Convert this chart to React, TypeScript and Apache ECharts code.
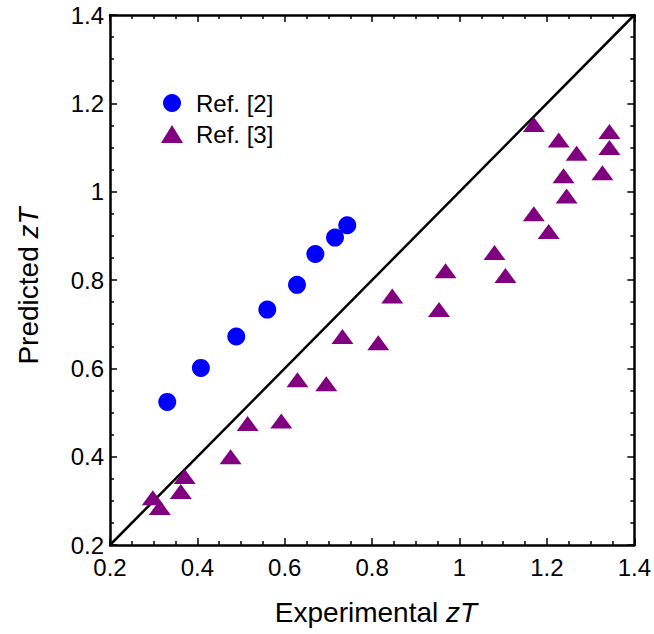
import React, { useEffect, useRef } from "react";
import * as echarts from "echarts";

const ref2X = [0.331, 0.408, 0.489, 0.56, 0.628, 0.67, 0.715, 0.743];
const ref2Y = [0.524, 0.601, 0.672, 0.733, 0.789, 0.859, 0.896, 0.924];

const ref3X = [0.298, 0.314, 0.371, 0.362, 0.476, 0.515, 0.592, 0.629, 0.695, 0.732, 0.814, 0.846, 0.953, 0.968, 1.08, 1.105, 1.17, 1.17, 1.227, 1.204, 1.268, 1.238, 1.245, 1.343, 1.343, 1.327];
const ref3Y = [0.307, 0.285, 0.355, 0.321, 0.4, 0.475, 0.481, 0.574, 0.565, 0.672, 0.658, 0.764, 0.733, 0.821, 0.862, 0.81, 1.152, 0.95, 1.117, 0.91, 1.087, 1.036, 0.99, 1.136, 1.1, 1.043];

const diagonal = [0.2, 1.4];
const axisMin = 0.2;
const axisMax = 1.4;
const axisStep = 0.2;

const FONT = "Liberation Sans, Arial, sans-serif";

const fmt = (v: number) => String(+v.toFixed(1));

export default function App() {
  const ref = useRef<HTMLDivElement>(null);
  useEffect(() => {
    if (!ref.current) return;
    const chart = echarts.init(ref.current, null, { renderer: "svg" });
    const axisCommon = {
      type: "value" as const,
      min: axisMin,
      max: axisMax,
      interval: axisStep,
      splitLine: { show: false },
      axisLine: { show: true, onZero: false, lineStyle: { color: "#000", width: 2.5 } },
      axisTick: { show: true, inside: true, length: 7, lineStyle: { color: "#000", width: 1.5 } },
      minorTick: { show: true, splitNumber: 4, length: 4, lineStyle: { color: "#000", width: 1.5 } },
    };
    const titleRich = {
      a: { fontSize: 28, fontFamily: FONT, fill: "#000" },
      b: { fontSize: 28, fontFamily: FONT, fontStyle: "italic", fill: "#000" },
    };
    chart.setOption({
      animation: false,
      grid: { left: 110, right: 18, top: 15, bottom: 89 },
      legend: {
        data: ["Ref. [2]", "Ref. [3]"],
        orient: "vertical",
        left: 156,
        top: 86,
        itemWidth: 22,
        itemHeight: 18,
        itemGap: 7,
        textStyle: { fontSize: 24, fontFamily: FONT, color: "#000", padding: [0, 0, 0, 8] },
      },
      xAxis: [
        {
          ...axisCommon,
          position: "bottom",
          axisLabel: { fontSize: 24, fontFamily: FONT, color: "#000", margin: 10, formatter: fmt },
        },
        {
          ...axisCommon,
          position: "top",
          axisLabel: { show: false },
        },
      ],
      yAxis: [
        {
          ...axisCommon,
          position: "left",
          axisLabel: { fontSize: 24, fontFamily: FONT, color: "#000", margin: 6, formatter: fmt },
        },
        {
          ...axisCommon,
          position: "right",
          axisLabel: { show: false },
        },
      ],
      graphic: [
        {
          type: "text",
          x: 376,
          y: 612,
          style: {
            text: "{a|Experimental }{b|zT}",
            align: "center",
            verticalAlign: "middle",
            rich: titleRich,
          },
        },
        {
          type: "text",
          x: 28,
          y: 286,
          rotation: Math.PI / 2,
          style: {
            text: "{a|Predicted }{b|zT}",
            align: "center",
            verticalAlign: "middle",
            rich: titleRich,
          },
        },
      ],
      series: [
        {
          name: "diagonal",
          type: "line",
          data: diagonal.map((v) => [v, v]),
          symbol: "none",
          silent: true,
          lineStyle: { color: "#000", width: 2.5 },
          z: 1,
        },
        {
          name: "Ref. [2]",
          type: "scatter",
          data: ref2X.map((x, i) => [x, ref2Y[i]]),
          symbol: "circle",
          symbolSize: 18,
          itemStyle: { color: "#0000ff", opacity: 1 },
          z: 3,
        },
        {
          name: "Ref. [3]",
          type: "scatter",
          data: ref3X.map((x, i) => [x, ref3Y[i]]),
          symbol: "triangle",
          symbolSize: [22, 15],
          itemStyle: { color: "#800080", opacity: 1 },
          z: 3,
        },
      ],
    });
    return () => chart.dispose();
  }, []);
  return <div ref={ref} style={{ width: 654, height: 634, position: "absolute", left: 0, top: 0 }} />;
}
